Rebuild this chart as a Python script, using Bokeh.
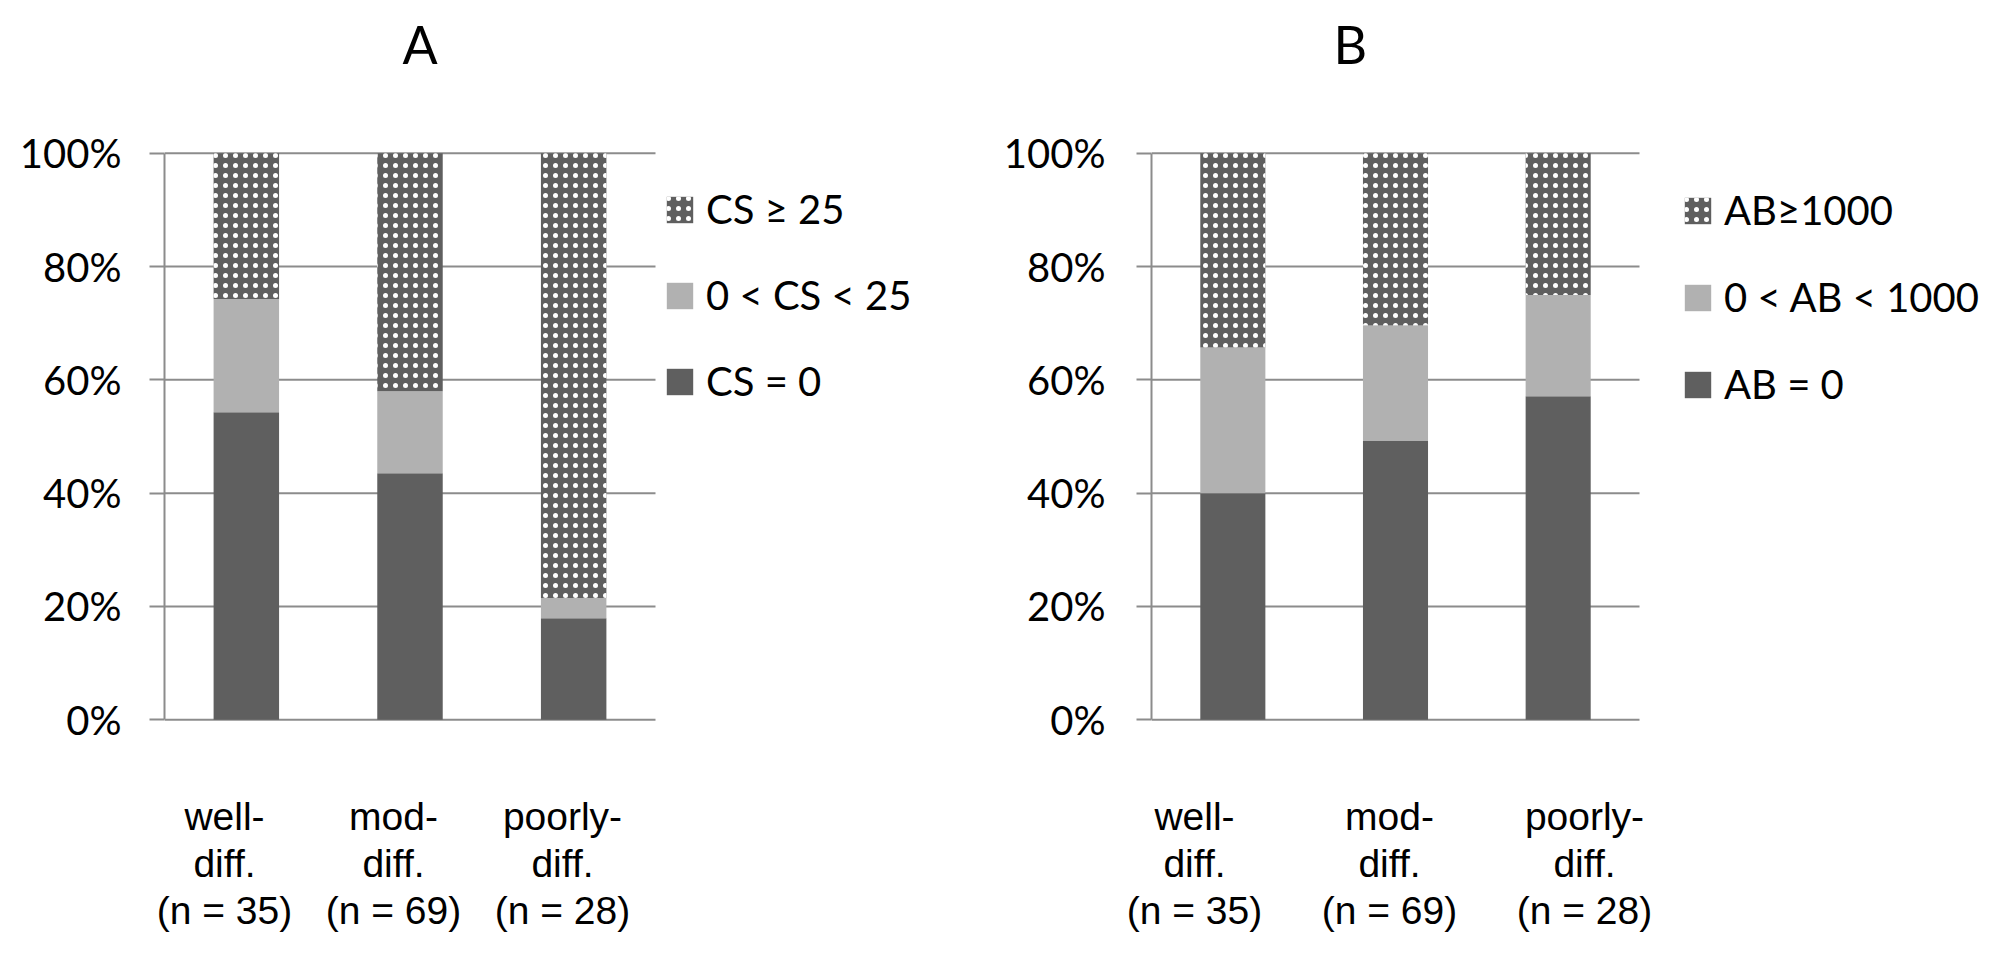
from bokeh.plotting import figure
from bokeh.models import (Range1d, LinearAxis, FixedTicker, PrintfTickFormatter,
                          Legend, LegendItem, ColumnDataSource, Title)
from bokeh.layouts import row
from bokeh.embed import file_html
from bokeh.resources import INLINE

# ---------------- data ----------------
categories = ["well", "mod", "poorly"]
category_labels = ["well-\ndiff.\n(n = 35)", "mod-\ndiff.\n(n = 69)", "poorly-\ndiff.\n(n = 28)"]
y_ticks = [0, 20, 40, 60, 80, 100]

a_zero = [54.3, 43.5, 17.9]
a_mid = [20.0, 14.5, 3.6]
a_high = [25.7, 42.0, 78.5]
a_labels = ["CS = 0", "0 < CS < 25", "CS \u2265 25"]

b_zero = [40.0, 49.3, 57.1]
b_mid = [25.7, 20.3, 17.9]
b_high = [34.3, 30.4, 25.0]
b_labels = ["AB = 0", "0 < AB < 1000", "AB\u22651000"]

# ---------------- style ----------------
DARK = "#5f5f5f"
LIGHT = "#b1b1b1"
GRID = "#8c8c8c"
TICK_FONT = "Lato"
CAT_FONT = "Liberation Sans"
Y_PAD = 0.5
FIG_H = 940
BORDER_TOP = 150
FRAME_H = 572


def make_panel(title, zero, mid, high, labels, width, border_left, border_right, bar_area_w,
               label_origin_px, label_px_per_cat,
               label_standoff, legend_x, legend_y, legend_spacing, title_offset):
    n = len(categories)
    frame_w = width - border_left - border_right
    x_end = n * frame_w / bar_area_w          # frame extends to the right to hold the legend
    xpos = [i + 0.5 for i in range(n)]
    src = ColumnDataSource(dict(x=xpos, cat=categories, zero=zero, mid=mid, high=high))
    p = figure(width=width, height=FIG_H, x_range=Range1d(0, x_end),
               y_range=Range1d(-Y_PAD, 100 + Y_PAD), x_axis_location=None,
               output_backend="svg", toolbar_location=None, tools="",
               min_border_left=border_left, min_border_right=border_right,
               min_border_top=BORDER_TOP, min_border_bottom=FIG_H - BORDER_TOP - FRAME_H)
    p.outline_line_color = None
    p.background_fill_color = "white"
    p.border_fill_color = "white"
    p.xgrid.visible = False
    p.ygrid.visible = False

    # horizontal grid lines only across the bar area
    p.segment(x0=0, x1=n, y0=y_ticks, y1=y_ticks, line_color=GRID, line_width=2, level="underlay")

    rs = p.vbar_stack(["zero", "mid", "high"], x="x", width=0.4, source=src,
                      color=[DARK, LIGHT, DARK], line_color=None,
                      hatch_pattern=[" ", " ", "."], hatch_color="white",
                      hatch_scale=10, hatch_weight=1)

    # y axis
    ya = p.yaxis[0]
    ya.ticker = FixedTicker(ticks=y_ticks)
    ya.bounds = (0, 100)
    ya.formatter = PrintfTickFormatter(format="%d%%")
    ya.axis_line_color = GRID
    ya.axis_line_width = 2
    ya.major_tick_line_color = GRID
    ya.major_tick_line_width = 2
    ya.major_tick_out = 15
    ya.major_tick_in = 0
    ya.minor_tick_line_color = None
    ya.major_label_standoff = label_standoff
    ya.major_label_text_font = TICK_FONT
    ya.major_label_text_font_size = "40px"
    ya.major_label_text_color = "black"

    # category label axis: the text blocks are spaced a little differently from the bars
    lab_start = -label_origin_px / label_px_per_cat
    lab_end = (frame_w - label_origin_px) / label_px_per_cat
    p.extra_x_ranges = {"lab": Range1d(lab_start, lab_end)}
    xa = LinearAxis(x_range_name="lab", ticker=FixedTicker(ticks=xpos),
                    major_label_overrides={k: v for k, v in zip(xpos, category_labels)})
    xa.axis_line_color = None
    xa.major_tick_line_color = None
    xa.major_tick_out = 0
    xa.major_tick_in = 0
    xa.minor_tick_line_color = None
    xa.major_label_standoff = 72
    xa.major_label_text_font = CAT_FONT
    xa.major_label_text_font_size = "39px"
    xa.major_label_text_line_height = 1.1
    xa.major_label_text_color = "black"
    p.add_layout(xa, "below")

    # real title (outermost) plus a blank spacer title next to the frame
    p.title.text = title
    p.title.align = "left"
    p.title.offset = title_offset
    p.title.text_font = TICK_FONT
    p.title.text_font_size = "52px"
    p.title.text_font_style = "normal"
    p.title.text_color = "black"
    p.title.standoff = 0
    p.add_layout(Title(text=" ", text_font_size="10px", standoff=63), "above")

    items = [LegendItem(label=lab, renderers=[r]) for lab, r in zip(labels, rs)][::-1]
    legend = Legend(items=items, location=(legend_x, legend_y), orientation="vertical",
                    glyph_width=33, glyph_height=33, label_height=27, spacing=legend_spacing,
                    padding=0, margin=0, label_standoff=10,
                    label_text_font=TICK_FONT, label_text_font_size="40px",
                    label_text_color="black",
                    background_fill_alpha=0, border_line_color=None)
    p.add_layout(legend)
    return p


pa = make_panel("A", a_zero, a_mid, a_high, a_labels, width=980, border_left=164,
                border_right=5, bar_area_w=491, label_origin_px=-24.5, label_px_per_cat=169,
                label_standoff=28, legend_x=499, legend_y=317, legend_spacing=38, title_offset=238)
pb = make_panel("B", b_zero, b_mid, b_high, b_labels, width=1028, border_left=171,
                border_right=4, bar_area_w=488, label_origin_px=-54.5, label_px_per_cat=195,
                label_standoff=31, legend_x=530, legend_y=314, legend_spacing=39, title_offset=182)

layout = row(pa, pb)
open("out.html", "w").write(file_html(layout, INLINE))
